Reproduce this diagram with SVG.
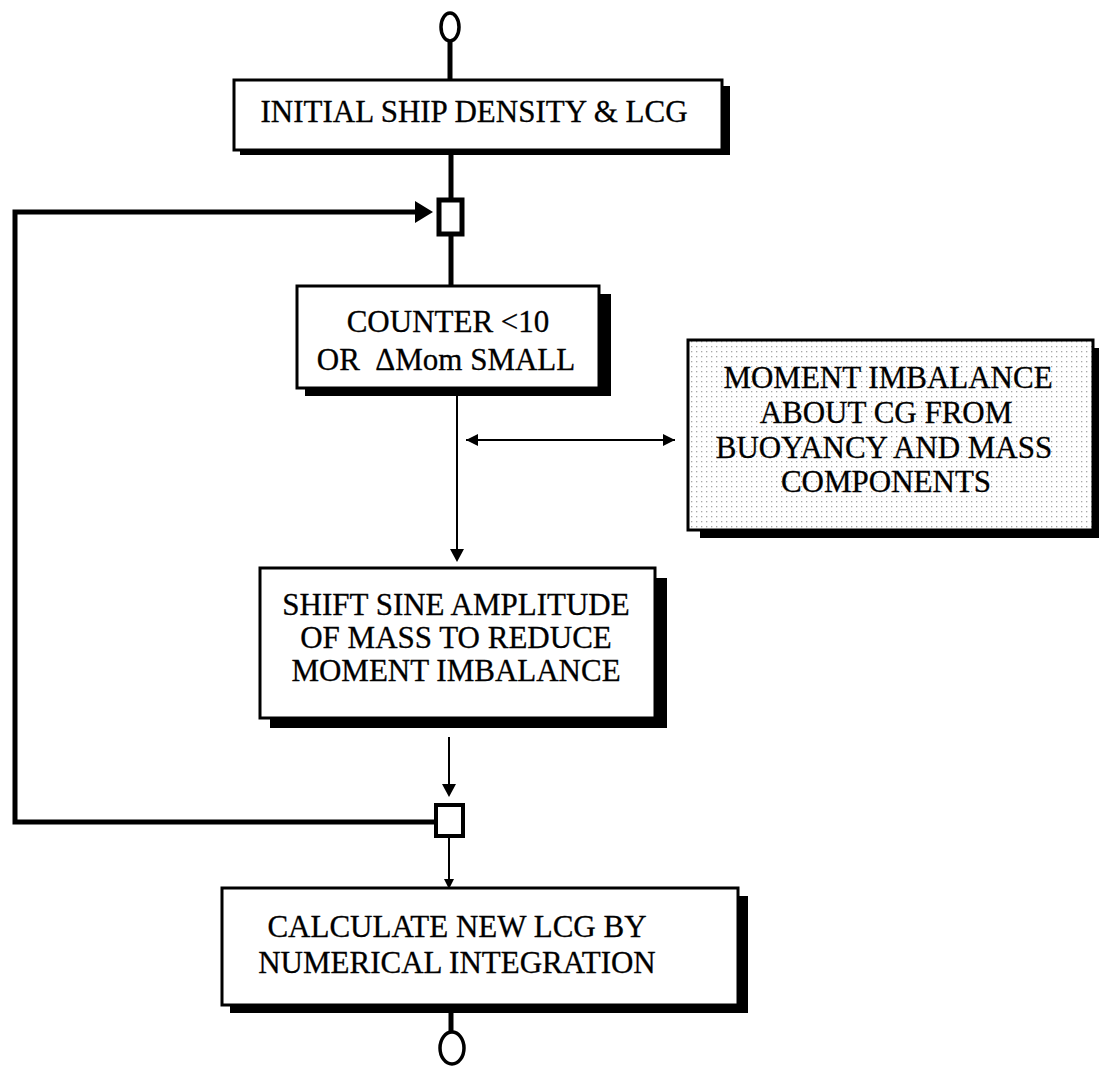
<svg xmlns="http://www.w3.org/2000/svg" width="1099" height="1068" viewBox="0 0 1099 1068">
  <style>
    .box { fill: #ffffff; stroke: #000000; stroke-width: 3; }
    .shade { fill: #000000; }
    .lbl { font-family: "Liberation Serif", "DejaVu Serif", serif; font-size: 31px; fill: #000000; stroke: #000000; stroke-width: 0.3; text-anchor: middle; white-space: pre; }
    .thick { stroke: #000000; stroke-width: 5; fill: none; }
    .thin { stroke: #000000; stroke-width: 2; fill: none; }
    .term { fill: #ffffff; stroke: #000000; stroke-width: 3.5; }
    .junc { fill: #ffffff; stroke: #000000; stroke-width: 5; }
  </style>
  <defs>
    <pattern id="stipple" width="5" height="5" patternUnits="userSpaceOnUse">
      <rect width="5" height="5" fill="#ffffff"/>
      <rect x="1" y="1" width="1.3" height="1.3" fill="#a8a8a8"/>
    </pattern>
    <marker id="head" viewBox="0 0 10 10" refX="10" refY="5" markerWidth="6" markerHeight="6" orient="auto-start-reverse" markerUnits="strokeWidth">
      <path d="M0,0 L10,5 L0,10 z" fill="#000000"/>
    </marker>
  </defs>
  <rect width="1099" height="1068" fill="#ffffff"/>

  <g id="connectors">
    <!-- main spine, thick segments -->
    <line class="thick" x1="450" y1="40" x2="450" y2="80"/>
    <line class="thick" x1="451" y1="150" x2="451" y2="200"/>
    <line class="thick" x1="451" y1="234" x2="451" y2="286"/>
    <line class="thick" x1="451" y1="1012" x2="451" y2="1032"/>
    <!-- loop back from lower junction to upper junction -->
    <polyline class="thick" points="435,822 15,822 15,212 418,212"/>
    <polygon points="433,212 415,201 415,223" fill="#000000"/>
    <!-- thin flow arrows -->
    <line class="thin" x1="457" y1="396" x2="457" y2="550"/>
    <polygon points="457,562 450,549 464,549" fill="#000000"/>
    <line class="thin" x1="449" y1="737" x2="449" y2="785"/>
    <polygon points="449,797 442,784 456,784" fill="#000000"/>
    <line class="thin" x1="449" y1="838" x2="449" y2="880"/>
    <polygon points="449,889 444,879 454,879" fill="#000000"/>
    <!-- two-way link to the moment box -->
    <line class="thin" x1="466" y1="440" x2="675" y2="440" marker-start="url(#head)" marker-end="url(#head)"/>
  </g>

  <g id="start">
    <ellipse class="term" cx="450" cy="27" rx="9" ry="14"/>
  </g>

  <g id="initial">
    <rect class="shade" x="240" y="86" width="490" height="69"/>
    <rect class="box" x="234" y="80" width="488" height="70"/>
    <text class="lbl" x="474" y="122">INITIAL SHIP DENSITY &amp; LCG</text>
  </g>

  <g id="junction-top">
    <rect class="junc" x="439" y="200" width="23" height="34"/>
  </g>

  <g id="counter">
    <rect class="shade" x="305" y="294" width="306" height="102"/>
    <rect class="box" x="297" y="286" width="302" height="102"/>
    <text class="lbl" x="448" y="332">COUNTER &lt;10</text>
    <text class="lbl" x="446" y="370">OR  ΔMom SMALL</text>
  </g>

  <g id="moment">
    <rect class="shade" x="700" y="348" width="399" height="190"/>
    <rect class="box" x="688" y="340" width="405" height="190" style="fill:url(#stipple)"/>
    <text class="lbl" x="888" y="388">MOMENT IMBALANCE</text>
    <text class="lbl" x="886" y="423">ABOUT CG FROM</text>
    <text class="lbl" x="884" y="458">BUOYANCY AND MASS</text>
    <text class="lbl" x="886" y="492">COMPONENTS</text>
  </g>

  <g id="shift">
    <rect class="shade" x="270" y="578" width="397" height="150"/>
    <rect class="box" x="260" y="568" width="395" height="150"/>
    <text class="lbl" x="456" y="615">SHIFT SINE AMPLITUDE</text>
    <text class="lbl" x="456" y="648">OF MASS TO REDUCE</text>
    <text class="lbl" x="456" y="681">MOMENT IMBALANCE</text>
  </g>

  <g id="junction-bottom">
    <rect class="junc" x="436" y="805" width="27" height="31" style="stroke-width:4"/>
  </g>

  <g id="calculate">
    <rect class="shade" x="230" y="896" width="518" height="117"/>
    <rect class="box" x="222" y="888" width="516" height="117"/>
    <text class="lbl" x="457" y="937">CALCULATE NEW LCG BY</text>
    <text class="lbl" x="457" y="973">NUMERICAL INTEGRATION</text>
  </g>

  <g id="end">
    <ellipse class="term" cx="452" cy="1048" rx="12" ry="16"/>
  </g>
</svg>
